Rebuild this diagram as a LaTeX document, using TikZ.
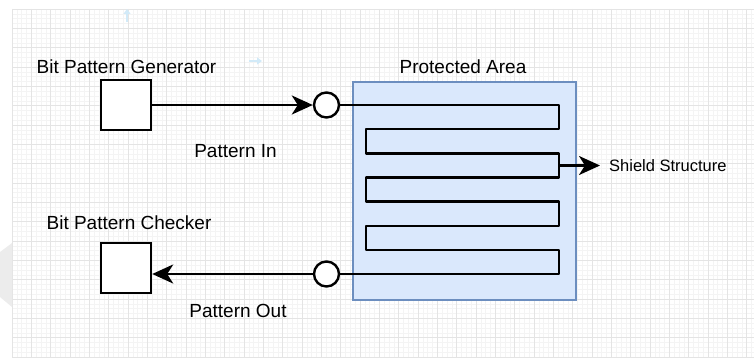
\documentclass[tikz,border=0pt]{standalone}
\usepackage{fontspec}
\setmainfont{Liberation Sans}
\usetikzlibrary{arrows.meta}
\definecolor{areafill}{HTML}{DAE8FC}
\definecolor{areadraw}{HTML}{6C8EBF}
\definecolor{gridmaj}{HTML}{E4E4E4}
\definecolor{gridmin}{HTML}{F4F4F4}
\definecolor{faintblue}{HTML}{D2EAF8}
\tikzset{
  blk/.style={draw=black, line width=2.4pt, fill=white, rectangle, minimum size=50pt, inner sep=0pt},
  port/.style={draw=black, line width=2.4pt, fill=white, circle, minimum size=25pt, inner sep=0pt},
  lbl/.style={font=\fontsize{19}{22}\selectfont, inner sep=0pt},
  small/.style={font=\fontsize{16.5}{20}\selectfont, inner sep=0pt},
  arr/.style={line width=2.4pt, -{Stealth[length=21pt,width=19pt,inset=6pt]}},
  wire/.style={line width=2.4pt, line join=round},
}
\begin{document}
\begin{tikzpicture}[x=1pt,y=-1pt]
\useasboundingbox (0,0) rectangle (754,361);
% background grid
\foreach \i in {0,...,153} {
  \draw[gridmin, line width=0.5pt] ({12+\i*4.833},9) -- ({12+\i*4.833},357);
}
\foreach \j in {0,...,72} {
  \draw[gridmin, line width=0.5pt] (12,{9+\j*4.833}) -- (754,{9+\j*4.833});
}
\foreach \i in {0,...,38} {
  \draw[gridmaj, line width=0.6pt] ({12+\i*19.33},9) -- ({12+\i*19.33},357);
}
\foreach \j in {0,...,18} {
  \draw[gridmaj, line width=0.6pt] (12,{9+\j*19.33}) -- (754,{9+\j*19.33});
}
% faint artefacts
\fill[gray!15] (0,252) -- (12,243) -- (12,307) -- (0,297) -- cycle;
\draw[faintblue, line width=2pt, -{Triangle[length=5pt,width=7pt]}] (127,22) -- (127,9);
\draw[faintblue, line width=2pt, -{Triangle[length=5pt,width=7pt]}] (249,61) -- (262,61);

% protected area
\node[draw=areadraw, fill=areafill, line width=2pt, rectangle, minimum width=223pt, minimum height=218pt, inner sep=0pt] (area) at (464.5,191) {};
\node[lbl] (arealbl) at (463,67) {Protected Area};

% blocks
\node[blk] (gen) at (126,105) {};
\node[blk] (chk) at (126,268) {};
\node[lbl] (genlbl) at (126.5,67) {Bit Pattern Generator};
\node[lbl] (chklbl) at (129,223) {Bit Pattern Checker};

% ports
\node[port] (cin) at (326.5,105) {};
\node[port] (cout) at (326.5,274) {};

% meander
\draw[wire] (cin.east) -- (558.7,105) -- (558.7,129) -- (365.7,129) -- (365.7,153.3)
  -- (558.7,153.3) -- (558.7,177.3) -- (365.7,177.3) -- (365.7,201.5)
  -- (558.7,201.5) -- (558.7,225.7) -- (365.7,225.7) -- (365.7,250)
  -- (558.7,250) -- (558.7,274) -- (cout.east);

% shield structure
\coordinate (sh) at (558.7,165.5);
\node[small, anchor=west] (shieldlbl) at (609,165.5) {Shield Structure};
\draw[arr] (sh) -- ([xshift=-9pt]shieldlbl.west);

% connectors
\draw[arr] (gen.east) -- (cin.west);
\draw[arr] (cout.west) -- (cout.west -| chk.east);
\node[lbl] (inlbl) at (235.5,151) {Pattern In};
\node[lbl] (outlbl) at (238,311) {Pattern Out};
\end{tikzpicture}
\end{document}
